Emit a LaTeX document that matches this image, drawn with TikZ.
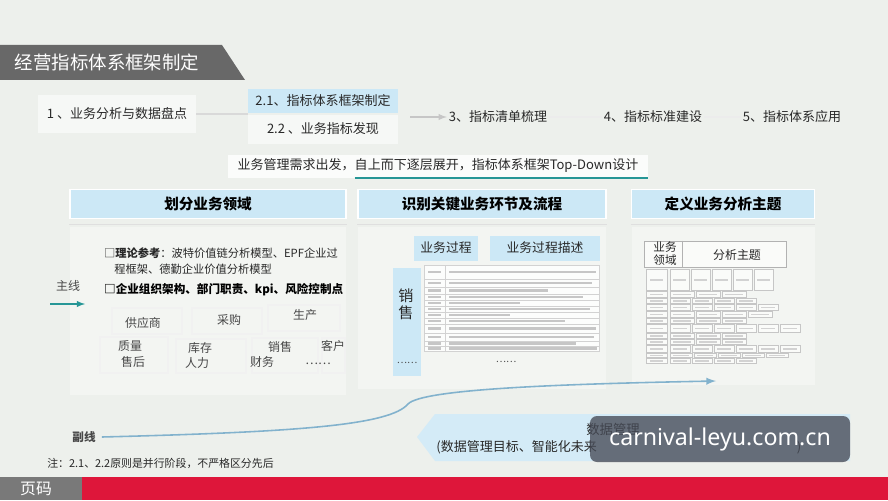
\documentclass[tikz,border=0pt]{standalone}
\usepackage{fontspec}
\setmainfont{Noto Sans CJK SC}
\newfontfamily\wmfont{Noto Sans}
\usepackage{tikz}
\usetikzlibrary{positioning}

\definecolor{bgc}{RGB}{237,240,236}
\definecolor{bannergray}{RGB}{104,104,104}
\definecolor{hblue}{RGB}{204,232,246}
\definecolor{lineteal}{RGB}{38,150,150}
\definecolor{curveblue}{RGB}{130,178,205}
\definecolor{barred}{RGB}{222,22,58}
\definecolor{txt}{RGB}{40,40,40}
\definecolor{wmgray}{RGB}{70,74,86}

\def\px{0.02cm}

\tikzset{
    stepbox/.style={fill=white, fill opacity=0.55, text opacity=1, text=txt, inner sep=1pt, font=\fontsize{7.4}{9}\selectfont},
    headbox/.style={fill=hblue, draw=white, line width=0.8pt, minimum height=29*\px, text=black, font=\fontsize{8.3}{10}\selectfont\bfseries},
    subhead/.style={fill=hblue, text=txt, minimum height=25*\px, inner sep=1pt, font=\fontsize{7.3}{9}\selectfont},
    gridword/.style={text=txt!85, font=\fontsize{6.8}{8}\selectfont},
    faintbox/.style={draw=gray!11, line width=0.7pt},
    tabline/.style={draw=gray!35, line width=0.3pt},
    tabtext/.style={draw=gray!45, line width=1.4pt},
    cellbox/.style={draw=gray!45, line width=0.3pt, fill=white, fill opacity=0.6},
    celltext/.style={draw=gray!35, line width=0.9pt}
}

\begin{document}
\begin{tikzpicture}[x=\px, y=-\px]
    \useasboundingbox (0,0) rectangle (888,500);
    \fill[bgc] (0,0) rectangle (888,500);

    % title banner
    \fill[bannergray] (0,45) -- (222,45) -- (245,80) -- (0,80) -- cycle;
    \node[text=white, font=\fontsize{10.5}{12}\selectfont] (title) at (107,62) {经营指标体系框架制定};

    % steps
    \node[stepbox, minimum width=158*\px, minimum height=38*\px] (s1) at (117,114) {1 、业务分析与数据盘点};
    \node[stepbox, fill=hblue, fill opacity=1, minimum width=150*\px, minimum height=24*\px] (s21) at (323,101) {2.1、指标体系框架制定};
    \node[stepbox, minimum width=150*\px, minimum height=29*\px] (s22) at (323,129) {2.2 、业务指标发现};
    \foreach \name/\xc/\label in {
        s3/498/{3、指标清单梳理},
        s4/653/{4、指标标准建设},
        s5/792/{5、指标体系应用}
    }{
        \node[stepbox, fill opacity=0] (\name) at (\xc,117) {\label};
    }
    \draw[gray!30, line width=0.8pt] (s1.east) -- (s1.east -| s22.west);
    \draw[gray!45, line width=0.6pt, -latex] ([xshift=12*\px]s3.west -| s21.east) -- (s3.west);
    \draw[gray!15, line width=0.8pt] (s3.east) -- (s4.west);
    \draw[gray!15, line width=0.8pt] (s4.east) -- (s5.west);

    \node[stepbox, fill opacity=0.8, minimum width=420*\px, minimum height=23*\px] (topdown) at (438,166) {业务管理需求出发，自上而下逐层展开，指标体系框架Top-Down设计};
    \draw[lineteal, line width=1pt] ([xshift=127*\px]topdown.south west) -- (topdown.south east);

    % three panels
    \foreach \name/\xc/\w/\h/\label in {
        hd1/208/276/168/划分业务领域,
        hd2/482/248/162/识别关键业务环节及流程,
        hd3/723/183/158/定义业务分析主题
    }{
        \fill[white, opacity=0.35] ({\xc-\w/2},227) rectangle ++(\w,\h);
        \node[headbox, minimum width=\w*\px] (\name) at (\xc,204) {\label};
        \draw[gray!25, line width=0.6pt] ([yshift=-5*\px]\name.south west) -- ([yshift=-5*\px]\name.south east);
    }

    % left panel
    \node[anchor=west, align=left, text=txt, font=\fontsize{6.4}{9}\selectfont] (theory) at (98,261)
        {□\textbf{理论参考}：波特价值链分析模型、EPF企业过\\\hspace{0.9em}程框架、德勤企业价值分析模型};
    \node[anchor=west, text=black, font=\fontsize{6.6}{8}\selectfont\bfseries] (org) at (98,290) {□企业组织架构、部门职责、kpi、风险控制点};
    \node[gridword] (ml) at (68,286) {主线};
    \coordinate (mlA) at (50,304);
    \coordinate (mlB) at (85,304);
    \draw[lineteal, line width=0.6pt, -latex] (mlA) -- (mlB);

    \foreach \a/\b in {{112,308}/{182,334}, {192,308}/{262,334}, {268,305}/{340,331},
                       {100,337}/{168,373}, {176,339}/{246,373}, {252,338}/{318,373}, {322,338}/{345,373}}
        \draw[faintbox] (\a) rectangle (\b);

    \foreach \coord/\word [count=\i] in {
        {143,323}/供应商, {229,320}/采购, {305,315}/生产,
        {130,346}/质量, {200,348}/库存, {280,347}/销售, {333,346}/客户,
        {133,362}/售后, {197,363}/人力, {262,362}/财务, {318,364}/……
    }{
        \node[gridword] (w\i) at (\coord) {\word};
    }

    % middle panel
    \node[subhead, minimum width=64*\px] (bp) at (446,248) {业务过程};
    \node[subhead, minimum width=110*\px] (bpd) at (545,248) {业务过程描述};
    \node[subhead, minimum width=28*\px, minimum height=108*\px, anchor=north] (salesbox) at (407,268) {};
    \node[align=center, text=txt, font=\fontsize{8.6}{9.5}\selectfont] (salestxt) at (406,304) {销\\售};
    \node[gridword, font=\fontsize{5.5}{6}\selectfont] (dots1) at (407,363) {……};
    \node[gridword, font=\fontsize{5.5}{6}\selectfont] (dots2) at (506,362) {……};

    \fill[white, opacity=0.8] (424,265) rectangle (599,351);
    \draw[tabline] (424,265) rectangle (599,351);
    \draw[tabline] (445,265) -- (445,351);
    \foreach \ya/\yb/\xe in {265/279/596, 279/287/592, 287/294/548, 294/300/583, 300/306/520, 306/312/590,
                             312/318/510, 318/324/565, 324/333/596, 333/341/594, 341/346/576, 346/351/597}{
        \draw[tabline] (424,\yb) -- (599,\yb);
        \draw[tabtext] (449,{(\ya+\yb)/2}) -- (\xe,{(\ya+\yb)/2});
        \draw[tabtext] (428,{(\ya+\yb)/2}) -- (441,{(\ya+\yb)/2});
    }

    % right panel
    \node[draw=gray!60, fill=white, fill opacity=0.6, minimum width=142*\px, minimum height=26*\px] (thead) at (715,254) {};
    \draw[gray!60] ([xshift=39*\px]thead.north west) -- ([xshift=39*\px]thead.south west);
    \node[align=center, text=txt, font=\fontsize{6.6}{7.4}\selectfont] (area) at (665,254) {业务\\领域};
    \node[text=txt, font=\fontsize{6.8}{8}\selectfont] (topic) at (737,255) {分析主题};
    \foreach \ya/\yb/\n/\cw in {269/291/5/19, 291/298/3/24, 298/304/4/20, 304/311/5/20, 311/318/4/24, 318/324/3/24,
                                324/333/6/20, 333/339/3/24, 339/345/3/24, 345/353/6/20, 353/358/5/22, 358/364/4/20}{
        \draw[cellbox] (646,\ya+0.7) rectangle (667,\yb-0.7);
        \draw[celltext] (650,{(\ya+\yb)/2}) -- (663,{(\ya+\yb)/2});
        \foreach \c in {1,...,\n}{
            \draw[cellbox] ({670+(\c-1)*(\cw+2)},\ya+0.7) rectangle ({670+\c*(\cw+2)-2},\yb-0.7);
            \draw[celltext] ({673+(\c-1)*(\cw+2)},{(\ya+\yb)/2}) -- ({667+\c*(\cw+2)-2},{(\ya+\yb)/2});
        }
    }

    % side line
    \node[gridword, font=\fontsize{6.6}{8}\selectfont\bfseries] (fx) at (84,437) {副线};
    \coordinate (fxEnd) at (716,381);
    \draw[curveblue, line width=0.9pt, -latex] (fx.east) .. controls (300,432) and (390,425) .. (408,404)
        .. controls (422,389) and (560,384) .. (fxEnd);

    % data management
    \fill[hblue!85] (417,437) -- (435,414) -- (850,414) -- (850,461) -- (435,461) -- cycle;
    \node[text=txt, font=\fontsize{7.6}{9}\selectfont] (dm) at (613,429) {数据管理};
    \node[anchor=west, inner sep=0pt, text=txt, font=\fontsize{7.4}{9}\selectfont] (dmdesc) at (436,447) {(数据管理目标、智能化未来};
    \node[text=txt, font=\fontsize{7.4}{9}\selectfont] (dmend) at (799,447) {)};
    \node[fill=wmgray, fill opacity=0.78, text opacity=1, rounded corners=7*\px, minimum width=260*\px, minimum height=46*\px,
          text=white, font=\wmfont\fontsize{13.2}{15}\selectfont] (wm) at (720,439) {carnival-leyu.com.cn};

    \node[anchor=west, inner sep=0pt, text=txt, font=\fontsize{6.2}{8}\selectfont] (note) at (47,463) {注：2.1、2.2原则是并行阶段，不严格区分先后};

    % footer
    \fill[barred] (82,477) rectangle (888,500);
    \fill[gray!95!black] (0,477) rectangle (82,500);
    \node[text=white, font=\fontsize{9}{10}\selectfont] (page) at (36,489) {页码};
\end{tikzpicture}
\end{document}
